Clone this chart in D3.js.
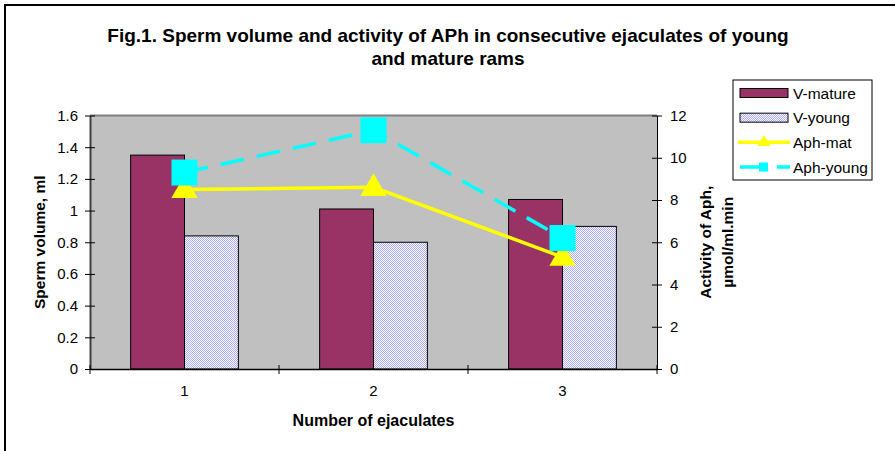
<!DOCTYPE html>
<html>
<head>
<meta charset="utf-8">
<script src="https://cdn.jsdelivr.net/npm/d3@7"></script>
<style>
body { margin: 0; background: #fff; }
svg { display: block; font-family: Arial, "Liberation Sans", sans-serif; }
</style>
</head>
<body>
<div id="chart"></div>
<script>
var categories = ['1', '2', '3']
var vMature = [1.35, 1.01, 1.07]
var vYoung = [0.84, 0.80, 0.90]
var aphMat = [8.5, 8.6, 5.3]
var aphYoung = [9.3, 11.3, 6.2]
var leftTicks = [0, 0.2, 0.4, 0.6, 0.8, 1, 1.2, 1.4, 1.6]
var rightTicks = [0, 2, 4, 6, 8, 10, 12]
var seriesNames = ['V-mature', 'V-young', 'Aph-mat', 'Aph-young']

var W = 895, H = 451
var plot = {left: 90, right: 657, top: 115.5, bottom: 369}

var svg = d3.select('#chart').append('svg')
	.attr('width', W)
	.attr('height', H)

var defs = svg.append('defs')
var pat = defs.append('pattern').attr('id', 'dots')
	.attr('width', 2).attr('height', 2)
	.attr('patternUnits', 'userSpaceOnUse')
pat.append('rect').attr('width', 2).attr('height', 2).attr('fill', '#ffffff')
pat.append('rect').attr('width', 1).attr('height', 1).attr('fill', '#aaaaff')
pat.append('rect').attr('x', 1).attr('y', 1).attr('width', 1).attr('height', 1).attr('fill', '#aaaaff')

// outer chart border (only left and top visible)
svg.append('rect')
	.attr('x', 5).attr('y', 5).attr('width', W + 20).attr('height', H + 20)
	.attr('fill', 'none').attr('stroke', '#000').attr('stroke-width', 2)

var x = d3.scaleBand().domain(categories)
	.range([plot.left, plot.right])
	.paddingInner(0.43).paddingOuter(0.215)
var xSub = d3.scaleBand().domain(['m', 'y']).range([0, x.bandwidth()])
var yL = d3.scaleLinear().domain([0, 1.6]).range([plot.bottom, plot.top])
var yR = d3.scaleLinear().domain([0, 12]).range([plot.bottom, plot.top])

// plot area
svg.append('rect')
	.attr('x', plot.left).attr('y', plot.top)
	.attr('width', plot.right - plot.left).attr('height', plot.bottom - plot.top)
	.attr('fill', '#c0c0c0')
svg.append('line')
	.attr('x1', plot.left).attr('x2', plot.right)
	.attr('y1', plot.top).attr('y2', plot.top)
	.attr('stroke', '#808080').attr('stroke-width', 2)

// bars
var bars = svg.append('g').attr('class', 'bars')
bars.selectAll('rect.mature').data(vMature).enter().append('rect')
	.attr('class', 'mature')
	.attr('x', (d, i) => x(categories[i]) + xSub('m'))
	.attr('y', d => yL(d))
	.attr('width', xSub.bandwidth())
	.attr('height', d => yL(0) - yL(d))
	.attr('fill', '#993366').attr('stroke', '#000').attr('stroke-width', 1)
bars.selectAll('rect.young').data(vYoung).enter().append('rect')
	.attr('class', 'young')
	.attr('x', (d, i) => x(categories[i]) + xSub('y'))
	.attr('y', d => yL(d))
	.attr('width', xSub.bandwidth())
	.attr('height', d => yL(0) - yL(d))
	.attr('fill', 'url(#dots)').attr('stroke', '#000').attr('stroke-width', 1)

// axes
var gL = svg.append('g').attr('transform', 'translate(' + plot.left + ',0)')
	.call(d3.axisLeft(yL).tickValues(leftTicks).tickSize(5).tickSizeOuter(0).tickPadding(7).tickFormat(d => String(d)))
gL.selectAll('.tick line').attr('x1', 5)
gL.select('.domain').attr('stroke', '#404040').attr('stroke-width', 2)

var gR = svg.append('g').attr('transform', 'translate(' + plot.right + ',0)')
	.call(d3.axisRight(yR).tickValues(rightTicks).tickSize(5).tickSizeOuter(0).tickPadding(8).tickFormat(d => String(d)))
gR.selectAll('.tick line').attr('x1', -5)

var gB = svg.append('g').attr('transform', 'translate(0,' + plot.bottom + ')')
	.call(d3.axisBottom(x).tickSize(0).tickPadding(16))
gB.select('.domain').attr('stroke', '#000').attr('stroke-width', 1.5)
// category boundary ticks
var bounds = d3.range(categories.length + 1).map(i => plot.left + i * x.step())
gB.selectAll('line.bound').data(bounds).enter().append('line')
	.attr('class', 'bound')
	.attr('x1', d => d).attr('x2', d => d)
	.attr('y1', -4).attr('y2', 5)
	.attr('stroke', '#000')

svg.selectAll('.tick text').attr('font-size', 15).attr('fill', '#000')
	.attr('font-family', 'Arial, "Liberation Sans", sans-serif')
svg.selectAll('.tick line').attr('stroke', '#000')

// lines
var cx = (d, i) => x(categories[i]) + x.bandwidth() / 2
var lineMat = d3.line().x(cx).y(d => yR(d))
var lineYoung = d3.line().x(cx).y(d => yR(d))
svg.append('path').datum(aphYoung)
	.attr('d', lineYoung).attr('fill', 'none')
	.attr('stroke', '#00ffff').attr('stroke-width', 3.5)
	.attr('stroke-dasharray', '24,13')
svg.append('path').datum(aphMat)
	.attr('d', lineMat).attr('fill', 'none')
	.attr('stroke', '#ffff00').attr('stroke-width', 3.5)

var tri = d3.symbol().type(d3.symbolTriangle).size(300)
svg.selectAll('path.tri').data(aphMat).enter().append('path')
	.attr('class', 'tri')
	.attr('d', tri)
	.attr('transform', (d, i) => 'translate(' + cx(d, i) + ',' + (yR(d) + 1) + ')')
	.attr('fill', '#ffff00')
svg.selectAll('rect.sq').data(aphYoung).enter().append('rect')
	.attr('class', 'sq')
	.attr('x', (d, i) => cx(d, i) - 13).attr('y', d => yR(d) - 13)
	.attr('width', 26).attr('height', 26)
	.attr('fill', '#00ffff')

// titles
var title = svg.append('text')
	.attr('text-anchor', 'middle')
	.attr('font-size', 19).attr('font-weight', 'bold')
title.append('tspan').attr('x', 448).attr('y', 42)
	.text('Fig.1. Sperm volume and activity of APh in consecutive ejaculates of young')
title.append('tspan').attr('x', 448).attr('y', 65)
	.text('and mature rams')

svg.append('text')
	.attr('x', (plot.left + plot.right) / 2).attr('y', 426)
	.attr('text-anchor', 'middle')
	.attr('font-size', 16).attr('font-weight', 'bold')
	.text('Number of ejaculates')

var midY = (plot.top + plot.bottom) / 2
svg.append('text')
	.attr('transform', 'translate(45,' + midY + ') rotate(-90)')
	.attr('text-anchor', 'middle')
	.attr('font-size', 15.5).attr('font-weight', 'bold')
	.text('Sperm volume, ml')
var rl = svg.append('text')
	.attr('transform', 'translate(0,' + midY + ') rotate(-90)')
	.attr('text-anchor', 'middle')
	.attr('font-size', 15.5).attr('font-weight', 'bold')
rl.append('tspan').attr('x', 0).attr('y', 711).text('Activity of Aph,')
rl.append('tspan').attr('x', 0).attr('y', 733).text('µmol/ml.min')

// legend
var lg = svg.append('g').attr('transform', 'translate(733,80)')
lg.append('rect').attr('width', 139).attr('height', 100)
	.attr('fill', '#fff').attr('stroke', '#000').attr('stroke-width', 1)
var rowY = d3.scalePoint().domain(seriesNames).range([13, 87])
lg.append('rect').attr('x', 7).attr('y', rowY('V-mature') - 4.5).attr('width', 48).attr('height', 9)
	.attr('fill', '#993366').attr('stroke', '#000')
lg.append('rect').attr('x', 7).attr('y', rowY('V-young') - 4.5).attr('width', 48).attr('height', 9)
	.attr('fill', 'url(#dots)').attr('stroke', '#000')
lg.append('line').attr('x1', 5).attr('x2', 57)
	.attr('y1', rowY('Aph-mat')).attr('y2', rowY('Aph-mat'))
	.attr('stroke', '#ffff00').attr('stroke-width', 3.5)
lg.append('path').attr('d', d3.symbol().type(d3.symbolTriangle).size(70))
	.attr('transform', 'translate(31,' + rowY('Aph-mat') + ')')
	.attr('fill', '#ffff00')
lg.append('line').attr('x1', 7).attr('x2', 57)
	.attr('y1', rowY('Aph-young')).attr('y2', rowY('Aph-young'))
	.attr('stroke', '#00ffff').attr('stroke-width', 3.5)
	.attr('stroke-dasharray', '24,13')
lg.append('rect').attr('x', 26).attr('y', rowY('Aph-young') - 4.5).attr('width', 9).attr('height', 9)
	.attr('fill', '#00ffff')
lg.selectAll('text.lab').data(seriesNames).enter().append('text')
	.attr('class', 'lab')
	.attr('x', 60).attr('y', d => rowY(d) + 5.5)
	.attr('font-size', 15.5)
	.text(d => d)
</script>
</body>
</html>
